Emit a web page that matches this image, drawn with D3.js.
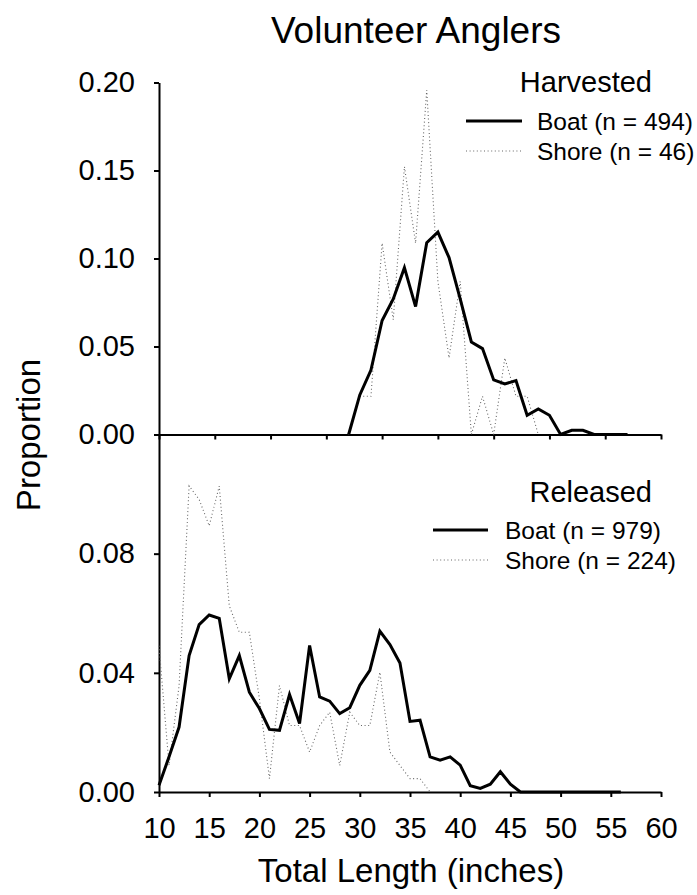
<!DOCTYPE html>
<html lang="en">
<head>
<meta charset="UTF-8">
<title>Volunteer Anglers</title>
<script src="https://cdn.jsdelivr.net/npm/d3@7/dist/d3.min.js"></script>
<style>
    body { margin: 0; background: #fff; }
    svg text { font-family: "Liberation Sans", Arial, sans-serif; fill: #000; }
</style>
</head>
<body>
<div id="chart"></div>
<script>
    // harvested fish, length classes (inches) and proportions
    const harvBoatLen = [32, 33, 34, 35, 36, 37, 38, 39, 40, 41, 42, 43, 44, 45, 46, 47, 48, 49, 50, 51, 52, 53, 54, 55, 56, 57];
    const harvBoat = [0, 0.0225, 0.0366, 0.0648, 0.077, 0.0948, 0.0727, 0.109, 0.115, 0.1005, 0.077, 0.0526, 0.0488, 0.031, 0.0287, 0.0306, 0.0109, 0.0145, 0.0109, 0, 0.0024, 0.0024, 0, 0, 0, 0];
    const harvShoreLen = [32, 33, 34, 35, 36, 37, 38, 39, 40, 41, 42, 43, 44, 45, 46, 47, 48, 49];
    const harvShore = [0, 0.0217, 0.0217, 0.1087, 0.0652, 0.1522, 0.1087, 0.1957, 0.087, 0.0435, 0.087, 0, 0.0217, 0, 0.0435, 0.0217, 0.0217, 0];

    // released fish
    const relBoatLen = [10, 11, 12, 13, 14, 15, 16, 17, 18, 19, 20, 21, 22, 23, 24, 25, 26, 27, 28, 29, 30, 31, 32, 33, 34, 35, 36, 37, 38, 39, 40, 41, 42, 43, 44, 45, 46, 47, 48, 49, 50, 51, 52, 53, 54, 55, 56];
    const relBoat = [0.0023, 0.0118, 0.0218, 0.0458, 0.0562, 0.0594, 0.0583, 0.038, 0.0458, 0.0335, 0.028, 0.021, 0.0207, 0.0327, 0.023, 0.0492, 0.0319, 0.0305, 0.0263, 0.0283, 0.0358, 0.0408, 0.054, 0.0495, 0.0433, 0.0237, 0.0241, 0.0118, 0.0107, 0.0118, 0.009, 0.0021, 0.0012, 0.0026, 0.0068, 0.0026, 0, 0, 0, 0, 0, 0, 0, 0, 0, 0, 0];
    const relShoreLen = [10, 11, 12, 13, 14, 15, 16, 17, 18, 19, 20, 21, 22, 23, 24, 25, 26, 27, 28, 29, 30, 31, 32, 33, 34, 35, 36, 37];
    const relShore = [0.0491, 0.0089, 0.0357, 0.1027, 0.0982, 0.0893, 0.1027, 0.0625, 0.0536, 0.0536, 0.0313, 0.0045, 0.0357, 0.0223, 0.0223, 0.0134, 0.0223, 0.0268, 0.0089, 0.0268, 0.0223, 0.0223, 0.0402, 0.0134, 0.0089, 0.0045, 0.0045, 0];

    const topXTicks = [15, 20, 25, 30, 35, 40, 45, 50, 55, 60];
    const botXTicks = [10, 15, 20, 25, 30, 35, 40, 45, 50, 55, 60];
    const topYTicks = [0, 0.05, 0.10, 0.15, 0.20];
    const botYTicks = [0, 0.04, 0.08];

    const W = 697, H = 895;
    const left = 159, right = 661;
    const topY0 = 434.5, topY1 = 82.5, botY0 = 792;

    const svg = d3.select("#chart").append("svg")
        .attr("width", W).attr("height", H);

    const xTop = d3.scaleLinear().domain([15, 60]).range([left, right]);
    const xBot = d3.scaleLinear().domain([10, 60]).range([left, right]);
    const yTop = d3.scaleLinear().domain([0, 0.2]).range([topY0, topY1]);
    const yBot = d3.scaleLinear().domain([0, 0.12]).range([botY0, topY0]);

    function axisStyle(g) {
        g.selectAll("path, line").attr("stroke", "#000").attr("stroke-width", 2);
        g.selectAll("text").attr("font-size", 29).attr("font-family", '"Liberation Sans", Arial, sans-serif');
    }

    // top panel axes
    svg.append("g").attr("transform", `translate(0,${topY0})`)
        .call(d3.axisBottom(xTop).tickValues(topXTicks).tickSize(5).tickSizeOuter(0).tickFormat(""))
        .call(axisStyle);
    svg.append("g").attr("transform", `translate(${left},0)`)
        .call(d3.axisLeft(yTop).tickValues(topYTicks).tickSize(5).tickSizeOuter(0).tickPadding(19).tickFormat(d3.format(".2f")))
        .call(axisStyle);

    // bottom panel axes
    svg.append("g").attr("transform", `translate(0,${botY0})`)
        .call(d3.axisBottom(xBot).tickValues(botXTicks).tickSize(5).tickSizeOuter(0).tickPadding(20))
        .call(axisStyle);
    svg.append("g").attr("transform", `translate(${left},0)`)
        .call(d3.axisLeft(yBot).tickValues(botYTicks).tickSize(5).tickSizeOuter(0).tickPadding(19).tickFormat(d3.format(".2f")))
        .call(axisStyle);

    const solid = { stroke: "#000", width: 3, dash: null };
    const dotted = { stroke: "#666", width: 1.1, dash: "1,2.6" };

    function drawLine(xs, ys, x, y, st) {
        const pts = xs.map((d, i) => [d, ys[i]]);
        svg.append("path")
            .datum(pts)
            .attr("fill", "none")
            .attr("stroke", st.stroke)
            .attr("stroke-width", st.width)
            .attr("stroke-linejoin", "miter")
            .attr("stroke-dasharray", st.dash)
            .attr("d", d3.line().x(d => x(d[0])).y(d => y(d[1])));
    }

    drawLine(harvShoreLen, harvShore, xTop, yTop, dotted);
    drawLine(harvBoatLen, harvBoat, xTop, yTop, solid);
    drawLine(relShoreLen, relShore, xBot, yBot, dotted);
    drawLine(relBoatLen, relBoat, xBot, yBot, solid);

    // titles
    svg.append("text").attr("x", 416).attr("y", 43).attr("text-anchor", "middle")
        .attr("font-size", 37).text("Volunteer Anglers");
    svg.append("text").attr("x", 652).attr("y", 92).attr("text-anchor", "end")
        .attr("font-size", 29).text("Harvested");
    svg.append("text").attr("x", 652).attr("y", 502).attr("text-anchor", "end")
        .attr("font-size", 29).text("Released");

    svg.append("text").attr("transform", "translate(40,435) rotate(-90)")
        .attr("text-anchor", "middle").attr("font-size", 33).text("Proportion");
    svg.append("text").attr("x", 411).attr("y", 882).attr("text-anchor", "middle")
        .attr("font-size", 33).text("Total Length (inches)");

    // legends
    function legend(x0, x1, tx, yS, yD, labels) {
        const items = [{ st: solid, y: yS, label: labels[0] }, { st: dotted, y: yD, label: labels[1] }];
        items.forEach(it => {
            svg.append("line").attr("x1", x0).attr("x2", x1).attr("y1", it.y).attr("y2", it.y)
                .attr("stroke", it.st.stroke).attr("stroke-width", it.st.width)
                .attr("stroke-dasharray", it.st.dash);
            svg.append("text").attr("x", tx).attr("y", it.y + 9).attr("font-size", 24.5).text(it.label);
        });
    }
    legend(466, 522, 537, 121, 151, ["Boat (n = 494)", "Shore (n = 46)"]);
    legend(433, 488, 505, 530, 560, ["Boat (n = 979)", "Shore (n = 224)"]);
</script>
</body>
</html>
